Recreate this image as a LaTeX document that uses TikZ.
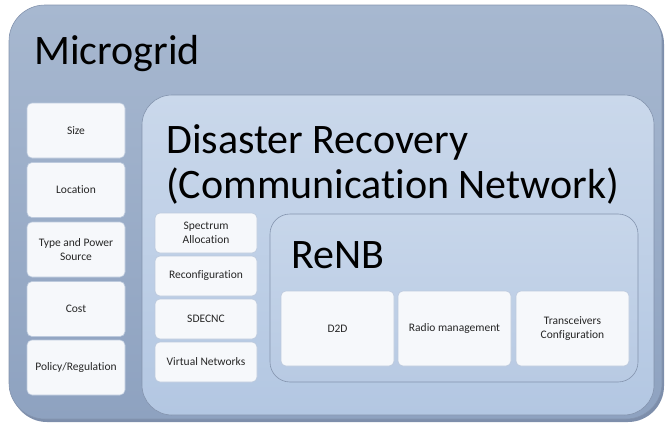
\documentclass[tikz,border=0pt]{standalone}
\usepackage{fontspec}
\setmainfont[Ligatures=NoCommon]{Carlito}
\usetikzlibrary{shadows}
\definecolor{mgTop}{HTML}{A7B8D0}
\definecolor{mgBot}{HTML}{8EA2C0}
\definecolor{mgLine}{HTML}{8494AE}
\definecolor{drTop}{HTML}{CAD8EB}
\definecolor{drBot}{HTML}{B3C7E2}
\definecolor{rnTop}{HTML}{C7D6EA}
\definecolor{rnBot}{HTML}{B8CAE3}
\definecolor{boxFill}{HTML}{F6F8FB}
\definecolor{boxLine}{HTML}{BDCADD}
\definecolor{shadowCol}{HTML}{6F82A2}
\tikzset{
  panel/.style={draw=mgLine, line width=0.6pt, inner sep=0pt},
  whitebox/.style={draw=boxLine, fill=boxFill, line width=0.6pt, rounded corners=5pt,
    inner sep=1pt, align=center, font=\fontsize{11.5}{14}\selectfont, text=black!85},
  title/.style={inner sep=0pt, anchor=base west, text=black, font=\fontsize{42}{46}\selectfont},
}
\begin{document}
\begin{tikzpicture}[x=1pt,y=-1pt]
\useasboundingbox (0,0) rectangle (665,423);
% outer panel
\node[panel, rounded corners=36pt, top color=mgTop, bottom color=mgBot,
  drop shadow={shadow xshift=2pt, shadow yshift=-3pt, fill=shadowCol, opacity=0.9},
  minimum width=653pt, minimum height=414pt] (microgrid) at (335.5,212) {};
\node[title] (mgtitle) at (34,64) {Microgrid};
% left boxes
\node[whitebox, minimum width=98pt, minimum height=55pt] (size) at (76,130.5) {Size};
\node[whitebox, minimum width=98pt, minimum height=55pt] (location) at (76,190) {Location};
\node[whitebox, minimum width=98pt, minimum height=55pt] (type) at (76,249.5) {Type and Power\\Source};
\node[whitebox, minimum width=98pt, minimum height=55pt] (cost) at (76,309) {Cost};
\node[whitebox, minimum width=98pt, minimum height=55pt] (policy) at (76,367.5) {Policy/Regulation};
% disaster recovery panel
\node[panel, rounded corners=30pt, top color=drTop, bottom color=drBot,
  minimum width=512pt, minimum height=320pt] (disaster) at (398,255) {};
\node[title] (drtitle1) at (166,153) {Disaster Recovery};
\node[title] (drtitle2) at (166,198) {(Communication Network)};
% middle boxes
\node[whitebox, minimum width=102pt, minimum height=40pt] (spectrum) at (206,233) {Spectrum\\Allocation};
\node[whitebox, minimum width=102pt, minimum height=40pt] (reconf) at (206,276) {Reconfiguration};
\node[whitebox, minimum width=102pt, minimum height=40pt] (sdecnc) at (206,319) {SDECNC};
\node[whitebox, minimum width=102pt, minimum height=40pt] (virtual) at (206,362) {Virtual Networks};
% ReNB panel
\node[panel, rounded corners=20pt, top color=rnTop, bottom color=rnBot,
  minimum width=368pt, minimum height=168pt] (renb) at (454,298) {};
\node[title] (renbtitle) at (291,268) {ReNB};
\node[whitebox, minimum width=113pt, minimum height=75pt] (d2d) at (337.5,328.5) {D2D};
\node[whitebox, minimum width=113pt, minimum height=75pt] (radio) at (454.5,328.5) {Radio management};
\node[whitebox, minimum width=113pt, minimum height=75pt] (trans) at (572.5,328.5) {Transceivers\\Configuration};
\end{tikzpicture}
\end{document}
